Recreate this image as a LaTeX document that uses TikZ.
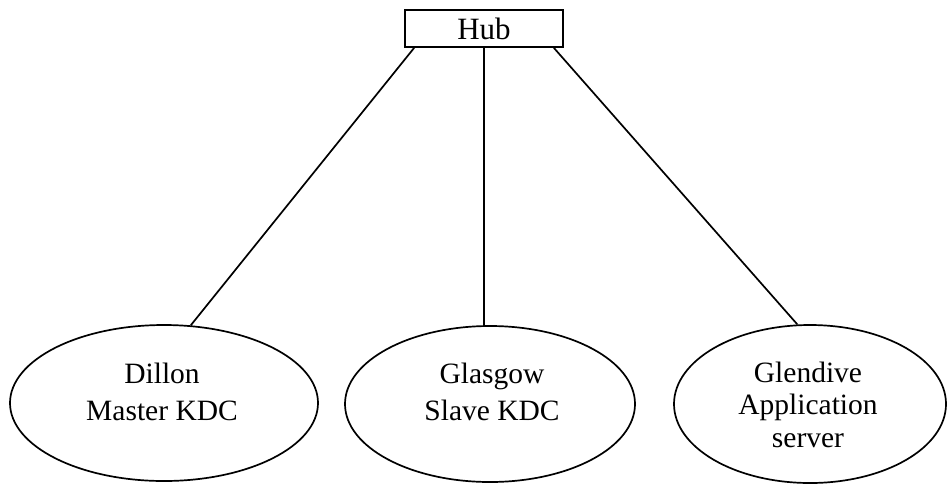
\documentclass[tikz,border=0pt]{standalone}
\usepackage{fontspec}
\setmainfont{Liberation Serif}
\usetikzlibrary{shapes.geometric}
\begin{document}
\begin{tikzpicture}[x=1pt,y=-1pt,
  line width=1.7pt,
  hubbox/.style={draw, rectangle, minimum width=158pt, minimum height=37pt, inner sep=0pt, font=\fontsize{31}{36}\selectfont},
  site/.style={draw, ellipse, inner sep=0pt},
  sitetext/.style={inner sep=0pt, align=center, font=\fontsize{29.5}{37}\selectfont},
  sitetextthree/.style={inner sep=0pt, align=center, font=\fontsize{29.5}{32.5}\selectfont}]
  \useasboundingbox (0,0) rectangle (947,483);
  % hub at the top
  \node[hubbox] (hub) at (484,28.5) {Hub};
  % the three sites
  \node[site, minimum width=308pt, minimum height=156pt] (dillon) at (164,403) {};
  \node[sitetext] (dillonlabel) at (162,391.5) {Dillon\\Master KDC};
  \node[site, minimum width=290pt, minimum height=156pt] (glasgow) at (490,404) {};
  \node[sitetext] (glasgowlabel) at (492,391.5) {Glasgow\\Slave KDC};
  \node[site, minimum width=272pt, minimum height=158pt] (glendive) at (810,404) {};
  \node[sitetextthree] (glendivelabel) at (808,404.5) {Glendive\\Application\\server};
  % links from the hub
  \draw ([xshift=10pt]hub.south west) -- (dillon.71);
  \draw (hub.south) -- (glasgow.north -| hub.south);
  \draw ([xshift=-10pt]hub.south east) -- (glendive.99);
\end{tikzpicture}
\end{document}
